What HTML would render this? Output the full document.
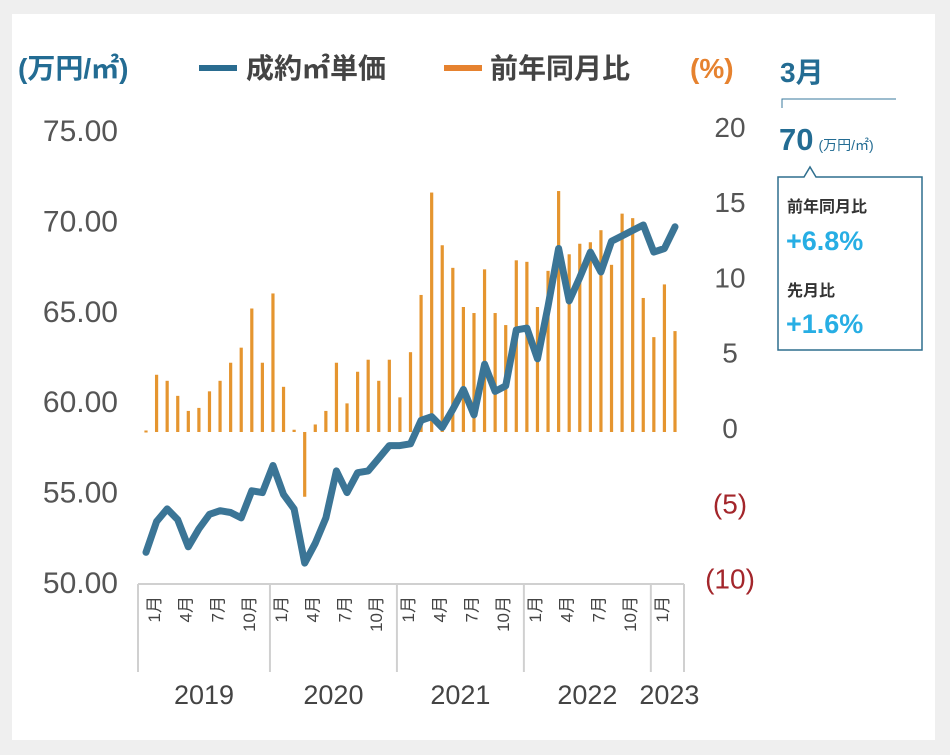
<!DOCTYPE html>
<html><head><meta charset="utf-8">
<style>
html,body{margin:0;padding:0;}
body{width:950px;height:755px;background:#efefef;position:relative;overflow:hidden;font-family:"Liberation Sans","Noto Sans CJK JP",sans-serif;}
#panel{position:absolute;left:12px;top:14px;width:923px;height:726px;background:#fff;}
svg{position:absolute;left:0;top:0;}
</style></head>
<body>
<div id="panel"></div>
<svg id="chart" width="950" height="755" font-family="Liberation Sans, Noto Sans CJK JP, sans-serif">
  <g font-weight="bold">
    <text x="18" y="78" font-size="28" fill="#236c93">(万円/㎡)</text>
    <rect x="199" y="65" width="38" height="6" fill="#2a6c90"/>
    <text x="246" y="78" font-size="28" fill="#444">成約㎡単価</text>
    <rect x="444" y="65" width="38" height="6" fill="#e6822f"/>
    <text x="490" y="78" font-size="28" fill="#444">前年同月比</text>
    <text x="690" y="78" font-size="28" fill="#e6822f">(%)</text>
  </g>
  <g id="axes"></g>
  <g id="bars"></g>
  <g id="line"></g>
  <g>
    <text x="780" y="82" font-size="28" font-weight="bold" fill="#236c93">3月</text>
    <path d="M782 108 V99 H896" fill="none" stroke="#3a7a9c" stroke-width="1"/>
    <text x="779" y="150" font-size="31" font-weight="bold" fill="#236c93">70<tspan font-size="14" font-weight="normal" fill="#236c93" dx="5">(万円/㎡)</tspan></text>
    <path d="M778 177 H804 L810 167 L816 177 H922 V350 H778 Z" fill="#fff" stroke="#2e6e8e" stroke-width="1.5"/>
    <text x="787" y="212" font-size="16" font-weight="bold" fill="#333">前年同月比</text>
    <text x="786" y="250" font-size="27" font-weight="bold" fill="#27aee4">+6.8%</text>
    <text x="787" y="296" font-size="16" font-weight="bold" fill="#333">先月比</text>
    <text x="786" y="333" font-size="27" font-weight="bold" fill="#27aee4">+1.6%</text>
  </g>
</svg>
<script>
const priceValues = [51.7,53.4,54.1,53.5,52.0,53.0,53.8,54.0,53.9,53.6,55.1,55.0,
  56.5,54.9,54.1,51.1,52.2,53.6,56.2,55.0,56.1,56.2,56.9,57.6,
  57.6,57.7,59.0,59.2,58.6,59.6,60.7,59.3,62.1,60.6,60.9,64.0,
  64.1,62.4,65.3,68.5,65.6,66.9,68.3,67.2,68.9,69.2,69.5,69.8,
  68.3,68.5,69.7];
const yoyValues = [0.1,3.8,3.4,2.4,1.4,1.6,2.7,3.4,4.6,5.6,8.2,4.6,
  9.2,3.0,0.15,-4.3,0.5,1.4,4.6,1.9,4.0,4.8,3.4,4.8,
  2.3,5.3,9.1,15.9,12.4,10.9,8.3,7.9,10.8,7.9,7.1,11.4,
  11.3,8.3,10.7,16.0,11.8,12.5,12.6,13.4,11.1,14.5,14.2,8.9,
  6.3,9.8,6.7];
const leftTicks = [50,55,60,65,70,75];
const leftTickLabels = ["50.00","55.00","60.00","65.00","70.00","75.00"];
const rightTicks = [-10,-5,0,5,10,15,20];
const rightTickLabels = ["(10)","(5)","0","5","10","15","20"];
const years = ["2019","2020","2021","2022","2023"];
const monthLabels = ["1月","4月","7月","10月"];

const NS="http://www.w3.org/2000/svg";
const x = i => 146 + i*(529/50);
const yL = v => 583 - (v-50)*(452/25);
const yR = v => 432 - v*15.06;
function mk(tag, attrs, parent){const e=document.createElementNS(NS,tag);for(const k in attrs)e.setAttribute(k,attrs[k]);parent.appendChild(e);return e;}
const axes=document.getElementById('axes');
leftTicks.forEach((t,i)=>{
  const e=mk('text',{x:118,y:yL(t)+10,'font-size':30,fill:'#555','text-anchor':'end'},axes);
  
  
  e.textContent=leftTickLabels[i];
});
rightTicks.forEach((t,i)=>{
  const e=mk('text',{x:730,y:yR(t)+6,'font-size':28,fill:t<0?'#a3262b':'#555','text-anchor':'middle'},axes);
  
  
  e.textContent=rightTickLabels[i];
});
const nMonths=priceValues.length;
const gx=mk('g',{},axes);


mk('line',{x1:138,x2:684,y1:584,y2:584,stroke:'#d0d0d0','stroke-width':2},gx);
const seps=[0,12,24,36,48,nMonths];
const sepX = s => s===0?138:(s===nMonths?684:x(s)-3);
seps.forEach(s=>{const xx=sepX(s);mk('line',{x1:xx,x2:xx,y1:584,y2:672,stroke:'#d0d0d0','stroke-width':2},gx);});
years.forEach((yr,k)=>{
  const a=sepX(seps[k]), b=sepX(seps[k+1]);
  const t=mk('text',{x:(a+b)/2+(k===4?2:0),y:704,'font-size':27,fill:'#444','text-anchor':'middle'},gx);
  
  
  t.textContent=yr;
  monthLabels.forEach((m,j)=>{
    const idx=seps[k]+j*3;
    if(idx>=nMonths) return;
    const mx=x(idx)+14;
    const mt=mk('text',{x:0,y:0,'font-size':17,fill:'#444','text-anchor':'end',transform:`translate(${mx},596) rotate(-90)`},gx);
    
    
    mt.textContent=m;
  });
});
const bars=document.getElementById('bars');
yoyValues.forEach((v,i)=>{
  const y0=yR(0), y1=yR(v);
  const r=mk('rect',{x:x(i)-1.6,y:Math.min(y0,y1),width:3.2,height:Math.max(2,Math.abs(y1-y0)),fill:'#e5952f'},bars);
  
  
});
const pts=priceValues.map((v,i)=>x(i).toFixed(1)+','+yL(v).toFixed(1)).join(' ');
const pl=mk('polyline',{points:pts,fill:'none',stroke:'#3b7596','stroke-width':7,'stroke-linejoin':'round','stroke-linecap':'round'},document.getElementById('line'));


</script>
</body></html>
